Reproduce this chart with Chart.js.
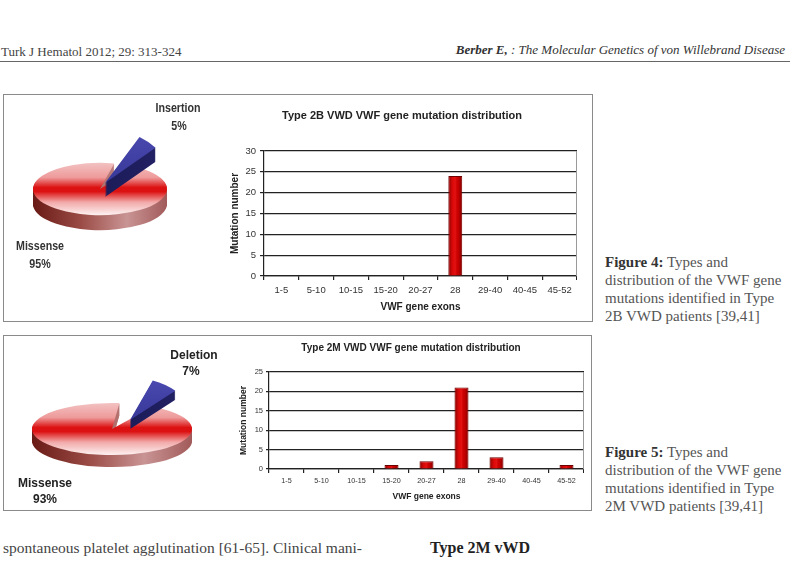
<!DOCTYPE html>
<html><head><meta charset="utf-8">
<script src="https://cdn.jsdelivr.net/npm/chart.js@4.4.1/dist/chart.umd.min.js"></script>
<style>
html,body{margin:0;padding:0}
body{width:792px;height:561px;position:relative;overflow:hidden;background:#fff}
.a{position:absolute;white-space:nowrap}
.serif{font-family:'Liberation Serif','Times New Roman',serif;color:#444}
canvas{position:absolute}
.box{position:absolute;border:1px solid #8a8a8a;box-sizing:border-box;background:#fff}
.cap{font-size:15px;line-height:18px;color:#555}
.cap b{color:#333}
</style></head><body>
<div class="a serif" style="left:1px;top:44px;font-size:13px;line-height:16px">Turk J Hematol 2012; 29: 313-324</div>
<div class="a serif" style="right:7px;top:42px;font-size:13px;line-height:16px;font-style:italic;color:#333"><b>Berber E,</b> : The Molecular Genetics of von Willebrand Disease</div>
<div class="a" style="left:0;top:61px;width:790px;height:1px;background:#666"></div>
<div class="box" style="left:3px;top:94px;width:590px;height:228px"></div>
<div class="box" style="left:3px;top:335px;width:589px;height:176px"></div>
<canvas id="pie4" width="214" height="224" style="left:4px;top:96px"></canvas>
<canvas id="bar4" width="350" height="220" style="left:227px;top:98px"></canvas>
<canvas id="pie5" width="214" height="172" style="left:4px;top:337px"></canvas>
<canvas id="bar5" width="346" height="167" style="left:238px;top:337px"></canvas>
<div class="a serif cap" style="left:605px;top:253px"><b>Figure 4:</b> Types and<br>distribution of the VWF gene<br>mutations identified in Type<br>2B VWD patients [39,41]</div>
<div class="a serif cap" style="left:605px;top:443px"><b>Figure 5:</b> Types and<br>distribution of the VWF gene<br>mutations identified in Type<br>2M VWD patients [39,41]</div>
<div class="a serif" style="left:3px;top:539px;font-size:15.5px;line-height:18px;color:#444">spontaneous platelet agglutination [61-65]. Clinical mani-</div>
<div class="a serif" style="left:430px;top:539px;font-size:16px;line-height:18px;color:#222;font-weight:bold">Type 2M vWD</div>
<script>
// ---- data ----
const fig4Types = ['Insertion', 'Missense'];
const fig4TypePct = [5, 95];
const fig5Types = ['Deletion', 'Missense'];
const fig5TypePct = [7, 93];
const exonGroups = ['1-5', '5-10', '10-15', '15-20', '20-27', '28', '29-40', '40-45', '45-52'];
const fig4Counts = [0, 0, 0, 0, 0, 24, 0, 0, 0];
const fig5Counts = [0, 0, 0, 1, 2, 21, 3, 0, 1];
const fig4Title = 'Type 2B VWD VWF gene mutation distribution';
const fig5Title = 'Type 2M VWD VWF gene mutation distribution';
const yTitle = 'Mutation number';
const xTitle = 'VWF gene exons';

Chart.defaults.font.family = "'Liberation Sans', Arial, sans-serif";
Chart.defaults.color = '#333';

const SANS = "'Liberation Sans', Arial, sans-serif";
const redTop = [[0, '#f3c2c2'], [0.28, '#ee9a9a'], [0.47, '#dc1212'], [0.55, '#dc1212'], [0.75, '#f2a8a8'], [1, '#fdf1f1']];
const redSide = [[0, '#6a1a14'], [0.35, '#9a4a44'], [0.7, '#c99494'], [1, '#a25a5a']];
const blueTop = [[0, '#4a4ab0'], [1, '#262684']];
const blueSide = [[0, '#16164e'], [1, '#222266']];

// per-canvas drawing style for the 3D pie look
const PIE_STYLE = {
  pie4: {
    order: [1, 0],
    slices: [
      { k: 0.8, depth: 14, dx: 5, dy: -6, shift: 18.7, rScale: 1, top: blueTop, side: blueSide },
      { k: 0.39, depth: 15, dx: 0, dy: 0, shift: 0, rScale: 1, top: redTop, side: redSide }
    ],
    labels: [{ name: [174, 12], pct: [175, 30] }, { name: [36, 150], pct: [36, 168] }],
    font: "bold 13px " + SANS, scaleX: 0.82, color: '#333'
  },
  pie5: {
    order: [1, 0],
    slices: [
      { k: 0.68, depth: 9, dx: 18, dy: -9, shift: 16, rScale: 0.78, top: blueTop, side: blueSide },
      { k: 0.325, depth: 12, dx: 0, dy: 0, shift: 0, rScale: 1, top: redTop, side: redSide }
    ],
    labels: [{ name: [190, 19], pct: [187, 35] }, { name: [41, 147], pct: [41, 163] }],
    font: "bold 12px " + SANS, scaleX: 1, color: '#222'
  }
};

const pie3d = {
  id: 'pie3d',
  beforeDatasetsDraw(chart) {
    const st = PIE_STYLE[chart.canvas.id];
    const ctx = chart.ctx;
    const meta = chart.getDatasetMeta(0);
    st.order.forEach(i => {
      const el = meta.data[i];
      const s = st.slices[i];
      const p = el.getProps(['x', 'y', 'startAngle', 'endAngle', 'outerRadius'], true);
      const r = p.outerRadius * s.rScale;
      const shift = s.shift * Math.PI / 180;
      const a0 = p.startAngle + shift, a1 = p.endAngle + shift;
      const cx = p.x + s.dx, cy = p.y + s.dy;
      const wedge = () => { ctx.beginPath(); ctx.moveTo(0, 0); ctx.arc(0, 0, r, a0, a1); ctx.closePath(); };
      for (let d = s.depth; d >= 1; d--) {
        ctx.save();
        ctx.translate(cx, cy + d);
        ctx.scale(1, s.k);
        wedge();
        const g = ctx.createLinearGradient(-r, 0, r, 0);
        s.side.forEach(([o, c]) => g.addColorStop(o, c));
        ctx.fillStyle = g;
        ctx.fill();
        ctx.restore();
      }
      ctx.save();
      ctx.translate(cx, cy);
      ctx.scale(1, s.k);
      wedge();
      const g = ctx.createLinearGradient(0, -r, 0, r);
      s.top.forEach(([o, c]) => g.addColorStop(o, c));
      ctx.fillStyle = g;
      ctx.fill();
      ctx.restore();
    });
    return false;
  },
  afterDraw(chart) {
    const st = PIE_STYLE[chart.canvas.id];
    const ctx = chart.ctx;
    const vals = chart.data.datasets[0].data;
    chart.data.labels.forEach((lab, i) => {
      const lp = st.labels[i];
      [[lab, lp.name], [vals[i] + '%', lp.pct]].forEach(([txt, pos]) => {
        ctx.save();
        ctx.translate(pos[0], pos[1]);
        ctx.scale(st.scaleX, 1);
        ctx.font = st.font;
        ctx.fillStyle = st.color;
        ctx.textAlign = 'center';
        ctx.textBaseline = 'middle';
        ctx.fillText(txt, 0, 0);
        ctx.restore();
      });
    });
  }
};

function makePie(id, labels, values, rot, radius, padding) {
  new Chart(document.getElementById(id), {
    type: 'pie',
    data: { labels, datasets: [{ data: values, borderWidth: 0 }] },
    options: {
      responsive: false, animation: false, devicePixelRatio: 1,
      rotation: rot, radius: radius,
      layout: { padding },
      plugins: { legend: { display: false }, tooltip: { enabled: false } }
    },
    plugins: [pie3d]
  });
}

makePie('pie4', fig4Types, fig4TypePct, 12.3, 67, { left: 0, right: 22, top: 0, bottom: 38 });
makePie('pie5', fig5Types, fig5TypePct, 5.4, 80, { left: 2, right: 0, top: 12, bottom: 0 });

const plotFrame = {
  id: 'plotFrame',
  beforeDatasetsDraw(chart) {
    const { ctx, chartArea: a } = chart;
    ctx.save();
    ctx.strokeStyle = '#9a9a9a';
    ctx.lineWidth = 1;
    ctx.beginPath();
    ctx.moveTo(a.right - 0.5, a.top);
    ctx.lineTo(a.right - 0.5, a.bottom);
    ctx.stroke();
    ctx.restore();
  },
  // cylinder-like shading across each bar
  afterDatasetsDraw(chart) {
    const ctx = chart.ctx;
    chart.getDatasetMeta(0).data.forEach(el => {
      const p = el.getProps(['x', 'y', 'base', 'width'], true);
      const h = p.base - p.y;
      if (h <= 1) return;
      const l = p.x - p.width / 2 + 1, w = p.width - 2;
      const g = ctx.createLinearGradient(l, 0, l + w, 0);
      g.addColorStop(0, 'rgba(90,0,0,0.55)');
      g.addColorStop(0.35, 'rgba(255,40,40,0.25)');
      g.addColorStop(0.5, 'rgba(255,60,60,0.3)');
      g.addColorStop(0.7, 'rgba(120,0,0,0.1)');
      g.addColorStop(1, 'rgba(90,0,0,0.55)');
      ctx.save();
      ctx.fillStyle = g;
      ctx.fillRect(l, p.y + 1, w, h - 1);
      ctx.restore();
    });
  }
};

function makeBar(id, title, counts, cfg) {
  new Chart(document.getElementById(id), {
    type: 'bar',
    data: {
      labels: exonGroups,
      datasets: [{
        data: counts,
        backgroundColor: '#d60000',
        borderColor: '#6e0000',
        borderWidth: c => (c.raw ? 1 : 0),
        barPercentage: 0.4,
        categoryPercentage: 1
      }]
    },
    options: {
      responsive: false, animation: false, devicePixelRatio: 1,
      layout: { padding: 0 },
      plugins: {
        legend: { display: false }, tooltip: { enabled: false },
        title: { display: true, text: title, color: '#222', font: { size: cfg.titleSize, weight: 'bold' }, padding: cfg.titlePad }
      },
      scales: {
        x: {
          grid: { display: true, drawOnChartArea: false, offset: true, tickLength: 4, color: '#222', lineWidth: 1.2 },
          border: { color: '#222', width: 1.2 },
          ticks: { font: { size: cfg.xTick }, color: '#333', padding: cfg.xTickPad, maxRotation: 0, autoSkip: false },
          title: { display: true, text: xTitle, color: '#222', font: { size: cfg.axTitle, weight: 'bold' }, padding: { top: 0, bottom: cfg.xTitlePad } },
          afterFit: s => { s.height = cfg.xH; }
        },
        y: {
          min: 0, max: cfg.yMax,
          ticks: { stepSize: 5, font: { size: cfg.yTick }, color: '#333', padding: cfg.yTickPad },
          grid: { color: '#222', lineWidth: 1.2, tickLength: cfg.yTickLen },
          border: { color: '#222', width: 1.2 },
          title: { display: true, text: yTitle, color: '#222', font: { size: cfg.axTitle, weight: 'bold' }, padding: { top: cfg.yTitlePad, bottom: 0 } },
          afterFit: s => { s.width = cfg.yW; }
        }
      }
    },
    plugins: [plotFrame]
  });
}

makeBar('bar4', fig4Title, fig4Counts, {
  titleSize: 11, titlePad: { top: 11.4, bottom: 28.4 },
  xTick: 9.5, xTickPad: 5, axTitle: 10, xTitlePad: 5, xH: 42,
  yMax: 30, yTick: 9.5, yTickPad: 4, yTickLen: 4, yTitlePad: 2, yW: 37
});

makeBar('bar5', fig5Title, fig5Counts, {
  titleSize: 10, titlePad: { top: 5, bottom: 18 },
  xTick: 7.2, xTickPad: 4, axTitle: 8.5, xTitlePad: 1.9, xH: 35,
  yMax: 25, yTick: 7.5, yTickPad: 3, yTickLen: 3, yTitlePad: 1, yW: 31
});
</script>
</body></html>
